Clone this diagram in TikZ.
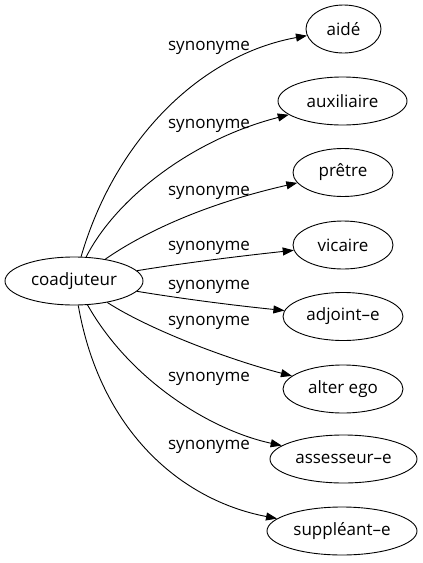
\documentclass[tikz,border=0pt]{standalone}
\usepackage{fontspec}
\setmainfont{Open Sans}
\usetikzlibrary{shapes.geometric,arrows.meta}
\tikzset{
  term/.style={ellipse,draw,line width=0.9pt,inner sep=0pt,minimum height=48pt,font=\fontsize{17pt}{20pt}\selectfont},
  lbl/.style={inner sep=0pt,font=\fontsize{17pt}{20pt}\selectfont},
  rel/.style={line width=0.9pt,-{Triangle[length=11pt,width=8pt]}}
}
\begin{document}
\begin{tikzpicture}[x=1pt,y=-1pt]
\useasboundingbox (0,0) rectangle (423,563);
\node[term,minimum width=138pt] (coad) at (74,281) {coadjuteur};
\node[term,minimum width=75pt] (aide) at (343.5,29) {aidé};
\node[term,minimum width=129pt] (aux) at (342.5,101) {auxiliaire};
\node[term,minimum width=100pt] (pretre) at (343,172.5) {prêtre};
\node[term,minimum width=100pt] (vic) at (343,245) {vicaire};
\node[term,minimum width=120pt] (adj) at (343,316.5) {adjoint–e};
\node[term,minimum width=120pt] (alter) at (343,389) {alter ego};
\node[term,minimum width=147pt] (ass) at (343.5,459) {assesseur–e};
\node[term,minimum width=150pt] (sup) at (342,531) {suppléant–e};

\node[lbl] (l1) at (209,48) {synonyme};
\node[lbl] (l2) at (209,126) {synonyme};
\node[lbl] (l3) at (209,193) {synonyme};
\node[lbl] (l4) at (209,248) {synonyme};
\node[lbl] (l5) at (209,287) {synonyme};
\node[lbl] (l6) at (209,323) {synonyme};
\node[lbl] (l7) at (209,379) {synonyme};
\node[lbl] (l8) at (209,447) {synonyme};

\draw[rel] (coad) .. controls (115,140) and (200,55) .. (aide);
\draw[rel] (coad) .. controls (115,200) and (190,140) .. (aux);
\draw[rel] (coad) .. controls (140,235) and (200,205) .. (pretre);
\draw[rel] (coad) .. controls (190,262) and (250,255) .. (vic);
\draw[rel] (coad) .. controls (190,300) and (240,306) .. (adj);
\draw[rel] (coad) .. controls (150,330) and (230,360) .. (alter);
\draw[rel] (coad) .. controls (130,380) and (210,430) .. (ass);
\draw[rel] (coad) .. controls (100,430) and (180,500) .. (sup);
\end{tikzpicture}
\end{document}
